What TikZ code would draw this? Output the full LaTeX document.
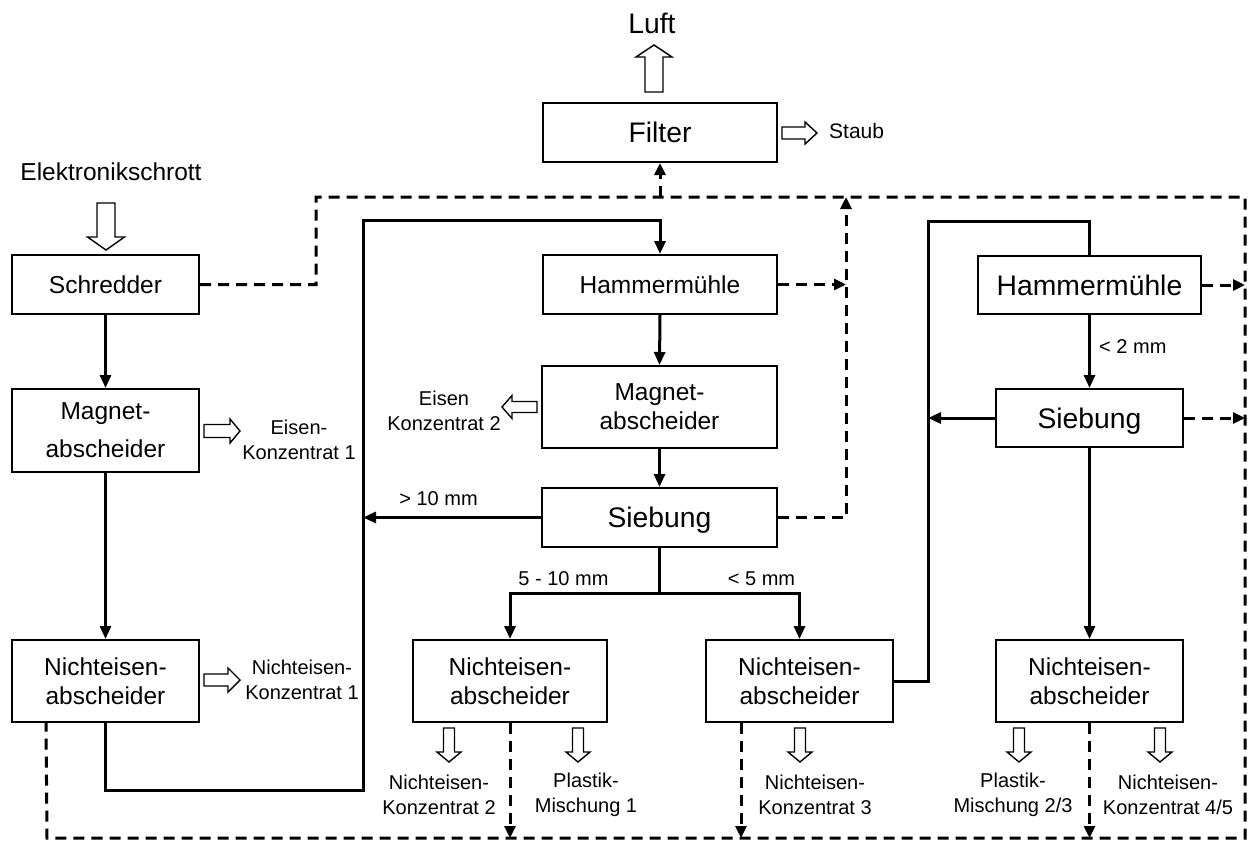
\documentclass[tikz,border=0pt]{standalone}
\usepackage{fontspec}
\setmainfont{Liberation Sans}
\usetikzlibrary{arrows.meta}
% font sizes (1pt = 1 unit of the drawing)
\newcommand\bxfont{\fontsize{24.5}{29}\selectfont}
\newcommand\bgfont{\fontsize{28.3}{33}\selectfont}
\newcommand\lbfont{\fontsize{20}{25}\selectfont}
\newcommand\stfont{\fontsize{21}{25}\selectfont}
\tikzset{
  box/.style={draw, line width=2pt, inner sep=0pt, align=center, font=\bxfont},
  bigbox/.style={box, font=\bgfont, text height=20.3pt, text depth=0pt},
  onebox/.style={box, text height=17.5pt, text depth=0pt},
  lbl/.style={inner sep=0pt, align=center, font=\lbfont},
  plain/.style={line width=3pt},
  flow/.style={line width=3pt, -{Triangle[length=13pt,width=11pt]}},
  dashline/.style={line width=3pt, dash pattern=on 11pt off 7pt},
  dflow/.style={dashline, -{Triangle[length=12pt,width=11pt]}},
  pics/hollow/.style args={#1/#2/#3/#4}{code={
    \draw[line width=1.4pt, fill=white, line join=miter]
      (0,-#2/2) -- (#1-#4,-#2/2) -- (#1-#4,-#3/2) -- (#1,0)
      -- (#1-#4,#3/2) -- (#1-#4,#2/2) -- (0,#2/2) -- cycle;
  }}
}
\begin{document}
\begin{tikzpicture}[x=1pt, y=-1pt]
\path[fill=white, use as bounding box] (0,0) rectangle (1248,841);

% process boxes
\node[bigbox, minimum width=234pt, minimum height=59pt] (filter) at (660,132.5) {Filter};
\node[onebox, minimum width=187pt, minimum height=59pt] (schred) at (105.5,284.5) {Schredder};
\node[box, minimum width=187pt, minimum height=83pt] (mag0) at (105.5,430.5) {Magnet-\\[9pt]abscheider};
\node[box, minimum width=187pt, minimum height=82pt] (ne1) at (105.5,681) {Nichteisen-\\abscheider};
\node[onebox, minimum width=234pt, minimum height=59pt] (ham1) at (660,284.5) {Hammermühle};
\node[box, minimum width=235pt, minimum height=82pt] (mag1) at (659.5,407) {Magnet-\\abscheider};
\node[bigbox, minimum width=235pt, minimum height=59pt] (sieb1) at (659.5,517.5) {Siebung};
\node[box, minimum width=194pt, minimum height=82pt] (ne2) at (510,681) {Nichteisen-\\abscheider};
\node[box, minimum width=187pt, minimum height=82pt] (ne3) at (799.5,681) {Nichteisen-\\abscheider};
\node[bigbox, minimum width=223pt, minimum height=58pt] (ham2) at (1089.5,285) {Hammermühle};
\node[bigbox, minimum width=187pt, minimum height=58pt] (sieb2) at (1089.5,418) {Siebung};
\node[box, minimum width=187pt, minimum height=82pt] (ne4) at (1089.5,681) {Nichteisen-\\abscheider};

% inputs and outputs
\node[lbl, font=\bxfont, anchor=base] (elek) at (111,180) {Elektronikschrott};
\node[lbl, font=\bgfont, anchor=base] (luft) at (652,33) {Luft};
\node[lbl, font=\stfont, anchor=base west] (staub) at (829,138) {Staub};
\node[lbl] (fe1) at (299,440) {Eisen-\\Konzentrat 1};
\node[lbl] (fe2) at (444,411) {Eisen\\Konzentrat 2};
\node[lbl] (nk1) at (302,680) {Nichteisen-\\Konzentrat 1};
\node[lbl] (nk2) at (439,795) {Nichteisen-\\Konzentrat 2};
\node[lbl] (pm1) at (586,795) {Plastik-\\Mischung 1};
\node[lbl] (nk3) at (815,795) {Nichteisen-\\Konzentrat 3};
\node[lbl] (pm2) at (1013,795) {Plastik-\\Mischung 2/3};
\node[lbl] (nk4) at (1168,795) {Nichteisen-\\Konzentrat 4/5};

% size classes
\node[lbl, anchor=base] (s10) at (438.5,505) {> 10 mm};
\node[lbl, anchor=base] (s510) at (563.5,585) {5 - 10 mm};
\node[lbl, anchor=base] (s5) at (761.5,585) {< 5 mm};
\node[lbl, anchor=base west] (s2) at (1099,353) {< 2 mm};

% hollow product arrows
\pic[rotate=90] at (654,92) {hollow=47/18/36/12};
\pic[rotate=-90] at (106,203) {hollow=47/18/37/13};
\pic at (782,133) {hollow=35/12/22/12};
\pic at (204,431) {hollow=36/13/24/10};
\pic[rotate=180] at (537,407) {hollow=35/11/23/10};
\pic at (204,680) {hollow=36/12/24/12};
\foreach \ax in {449,578,800,1019,1160}
  \pic[rotate=-90] at (\ax,728) {hollow=34/11/24/10};

% material flow
\coordinate (rl) at (363,790);
\coordinate (rt) at (363,220);
\coordinate (split) at (659.5,593);
\coordinate (rr) at (928,221);
\draw[flow] (schred.south) -- (mag0.north);
\draw[flow] (mag0.south) -- (ne1.north);
\draw[flow] (ne1.south) |- (rl) -- (rt) -| (ham1.north);
\draw[flow] (ham1.south) -- (mag1.north);
\draw[flow] (mag1.south) -- (sieb1.north);
\draw[flow] (sieb1.west) -- (sieb1.west -| rl);
\draw[plain] (sieb1.south) -- (split);
\draw[flow] (split) -| (ne2.north);
\draw[flow] (split) -| (ne3.north);
\draw[plain] (ne3.east) -| (rr) -| (ham2.north);
\draw[flow] (ham2.south) -- (sieb2.north);
\draw[flow] (sieb2.west) -- (sieb2.west -| rr);
\draw[flow] (sieb2.south) -- (ne4.north);

% exhaust air and residue loop
\coordinate (d1) at (316,197);
\coordinate (d2) at (1245,197);
\coordinate (d3) at (1245,838);
\coordinate (d4) at (47,838);
\coordinate (d5) at ([xshift=35pt]ne1.south west);
\coordinate (mv) at (846,197);
\coordinate (n3d) at ([xshift=36pt]ne3.south west);
\draw[dashline] (schred.east) -| (d1) -- (d2) -- (d3) -- (d4) -- (d5);
\draw[dflow] (filter.south |- d1) -- (filter.south);
\draw[dflow] (sieb1.east) -| (mv);
\draw[dflow] (ham1.east) -- (ham1.east -| mv);
\draw[dflow] (ham2.east) -- (ham2.east -| d2);
\draw[dflow] (sieb2.east) -- (sieb2.east -| d2);
\draw[dflow] (ne2.south) -- (ne2.south |- d4);
\draw[dflow] (n3d) -- (n3d |- d4);
\draw[dflow] (ne4.south) -- (ne4.south |- d4);
\end{tikzpicture}
\end{document}
